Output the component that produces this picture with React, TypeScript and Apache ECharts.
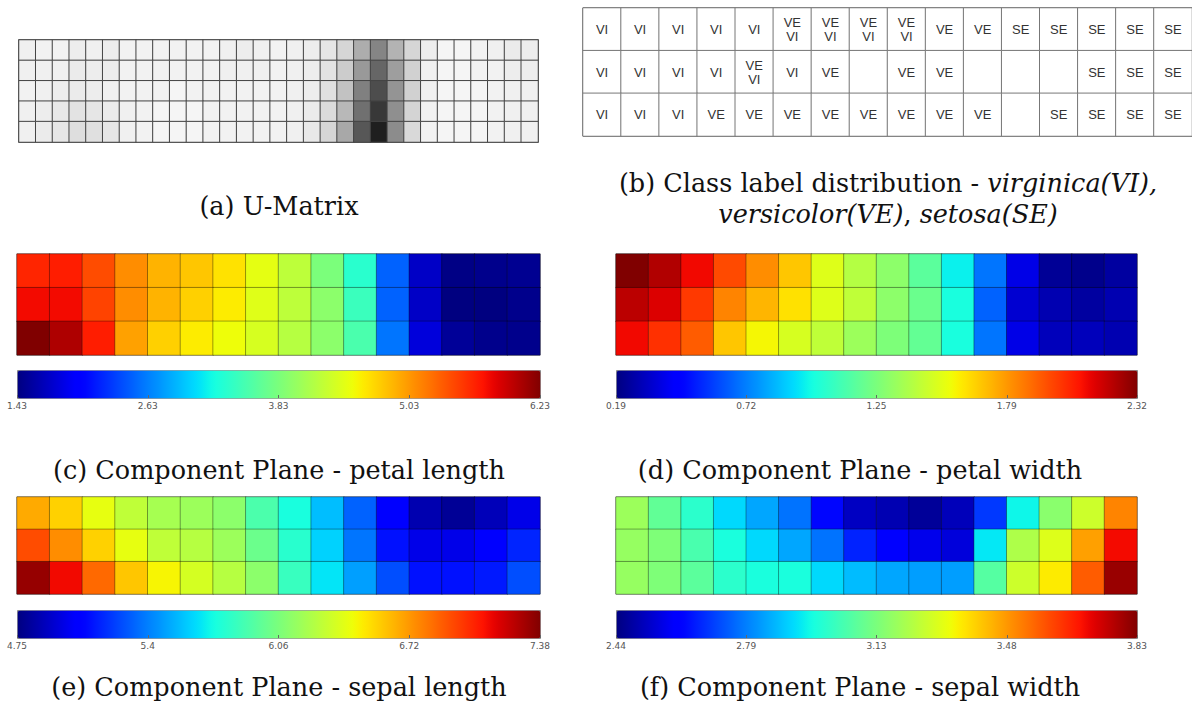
import React, { useEffect, useRef } from "react";
import * as echarts from "echarts";

// ---------- DATA ----------
const somCols = ["0","1","2","3","4","5","6","7","8","9","10","11","12","13","14","15"];
const somRows = ["r0","r1","r2"];
const umCols = Array.from({ length: 31 }, (_, i) => String(i));
const umRows = ["u0","u1","u2","u3","u4"];

// U-Matrix darkness (0 = white, 1 = black), rows top to bottom
const uRow0 = [0.06,0.05,0.05,0.07,0.06,0.07,0.05,0.05,0.05,0.05,0.05,0.05,0.06,0.07,0.06,0.05,0.06,0.07,0.10,0.16,0.32,0.48,0.30,0.16,0.07,0.04,0.04,0.05,0.06,0.08,0.07];
const uRow1 = [0.06,0.06,0.06,0.08,0.07,0.07,0.05,0.05,0.05,0.05,0.05,0.05,0.06,0.06,0.06,0.05,0.06,0.07,0.11,0.20,0.40,0.60,0.38,0.18,0.06,0.04,0.04,0.05,0.05,0.07,0.07];
const uRow2 = [0.05,0.06,0.07,0.08,0.07,0.06,0.05,0.05,0.05,0.04,0.05,0.05,0.05,0.05,0.05,0.05,0.06,0.07,0.12,0.24,0.50,0.70,0.42,0.18,0.06,0.04,0.04,0.04,0.05,0.06,0.06];
const uRow3 = [0.06,0.07,0.09,0.11,0.10,0.08,0.06,0.05,0.04,0.04,0.04,0.05,0.05,0.05,0.05,0.05,0.06,0.08,0.14,0.28,0.56,0.78,0.44,0.17,0.05,0.04,0.04,0.04,0.05,0.06,0.06];
const uRow4 = [0.06,0.08,0.10,0.13,0.12,0.10,0.06,0.05,0.04,0.04,0.04,0.05,0.05,0.05,0.05,0.05,0.06,0.09,0.16,0.34,0.66,0.88,0.45,0.15,0.05,0.04,0.04,0.04,0.05,0.06,0.06];

// Class labels
const classRow0 = ["VI","VI","VI","VI","VI","VE\nVI","VE\nVI","VE\nVI","VE\nVI","VE","VE","SE","SE","SE","SE","SE"];
const classRow1 = ["VI","VI","VI","VI","VE\nVI","VI","VE","","VE","VE","","","","SE","SE","SE"];
const classRow2 = ["VI","VI","VI","VE","VE","VE","VE","VE","VE","VE","VE","","SE","SE","SE","SE"];

// (c) petal length
const plTop = [5.61,5.65,5.41,5.08,4.89,4.79,4.65,4.45,4.21,3.83,3.35,2.49,1.72,1.45,1.48,1.50];
const plMid = [5.75,5.75,5.46,5.08,4.89,4.74,4.60,4.41,4.21,3.93,3.45,2.49,1.72,1.43,1.43,1.48];
const plBot = [6.23,6.04,5.65,4.98,4.74,4.60,4.50,4.36,4.17,3.93,3.54,2.58,1.81,1.53,1.48,1.48];
const plTicks = ["1.43","2.63","3.83","5.03","6.23"];

// (d) petal width
const pwTop = [2.32,2.23,2.11,1.96,1.81,1.68,1.51,1.40,1.30,1.17,0.96,0.70,0.38,0.23,0.21,0.25];
const pwMid = [2.21,2.15,2.00,1.83,1.72,1.62,1.51,1.43,1.30,1.21,1.00,0.66,0.34,0.28,0.25,0.28];
const pwBot = [2.11,2.02,1.92,1.68,1.57,1.49,1.43,1.34,1.26,1.19,1.00,0.70,0.38,0.30,0.30,0.28];
const pwTicks = ["0.19","0.72","1.25","1.79","2.32"];

// (e) sepal length
const slTop = [6.67,6.56,6.41,6.28,6.20,6.17,6.12,5.91,5.75,5.57,5.33,5.07,4.86,4.80,4.88,4.99];
const slMid = [6.93,6.75,6.56,6.41,6.28,6.25,6.17,6.01,5.80,5.62,5.38,5.12,4.99,4.99,5.07,5.17];
const slBot = [7.33,7.12,6.85,6.59,6.46,6.35,6.25,6.12,5.85,5.67,5.49,5.28,5.12,5.12,5.14,5.28];
const slTicks = ["4.75","5.4","6.06","6.72","7.38"];

// (f) sepal width
const swTop = [3.19,3.09,3.00,2.91,2.84,2.77,2.62,2.52,2.50,2.47,2.51,2.69,2.95,3.16,3.27,3.51];
const swMid = [3.18,3.14,3.05,2.97,2.91,2.84,2.77,2.66,2.61,2.57,2.55,2.93,3.22,3.30,3.47,3.69];
const swBot = [3.18,3.14,3.08,3.00,2.97,2.97,2.91,2.87,2.84,2.83,2.83,3.07,3.27,3.36,3.57,3.80];
const swTicks = ["2.44","2.79","3.13","3.48","3.83"];

// ---------- HELPERS ----------
function interp(t: number, pts: number[][]) {
  for (let i = 1; i < pts.length; i++) {
    if (t <= pts[i][0]) {
      const [x0, y0] = pts[i - 1];
      const [x1, y1] = pts[i];
      return y0 + ((t - x0) / (x1 - x0)) * (y1 - y0);
    }
  }
  return pts[pts.length - 1][1];
}
function jet(t: number) {
  const r = interp(t, [[0,0],[0.35,0],[0.66,1],[0.89,1],[1,0.5]]);
  const g = interp(t, [[0,0],[0.125,0],[0.375,1],[0.64,1],[0.91,0],[1,0]]);
  const b = interp(t, [[0,0.5],[0.11,1],[0.34,1],[0.65,0],[1,0]]);
  const h = (v: number) => Math.round(Math.max(0, Math.min(1, v)) * 255).toString(16).padStart(2, "0");
  return "#" + h(r) + h(g) + h(b);
}
const jetColors = Array.from({ length: 65 }, (_, i) => jet(i / 64));

function toCells(rows: any[][]) {
  const out: any[] = [];
  rows.forEach((row, y) => row.forEach((v, x) => out.push([x, y, v])));
  return out;
}

const SERIF = "DejaVu Serif";

export default function App() {
  const ref = useRef<HTMLDivElement>(null);
  useEffect(() => {
    document.body.style.margin = "0";
    const chart = echarts.init(ref.current!, null, { renderer: "svg" });

    const P = {
      um: { left: 19, top: 40, width: 519, height: 102 },
      tb: { left: 583, top: 8, width: 610, height: 128 },
      c: { left: 17, top: 254, width: 523, height: 101, cb: 370 },
      d: { left: 616, top: 254, width: 521, height: 101, cb: 370 },
      e: { left: 17, top: 497, width: 523, height: 97, cb: 610 },
      f: { left: 616, top: 497, width: 521, height: 97, cb: 610 },
    };
    const CB_H = 28;

    const grids: any[] = [];
    const xAxes: any[] = [];
    const yAxes: any[] = [];
    const series: any[] = [];
    const visualMaps: any[] = [];

    const addHeatGrid = (g: any, cols: string[], rows: string[], border: string, bw = 1) => {
      grids.push({ left: g.left, top: g.top, width: g.width, height: g.height, show: true, borderColor: border, borderWidth: bw, backgroundColor: "transparent" });
      const gi = grids.length - 1;
      xAxes.push({ gridIndex: gi, type: "category", data: cols, show: false });
      yAxes.push({ gridIndex: gi, type: "category", data: rows, inverse: true, show: false });
      return gi;
    };

    // (a) U-Matrix
    const gUm = addHeatGrid(P.um, umCols, umRows, "#444", 1.5);
    series.push({
      type: "heatmap", xAxisIndex: gUm, yAxisIndex: gUm,
      data: toCells([uRow0, uRow1, uRow2, uRow3, uRow4]),
      itemStyle: { borderColor: "#444", borderWidth: 1 },
      emphasis: { disabled: true },
      z: 1,
    });
    visualMaps.push({ show: false, type: "continuous", seriesIndex: series.length - 1, min: 0, max: 1, inRange: { color: ["#ffffff", "#000000"] } });

    // (b) Class label table
    const gTb = addHeatGrid(P.tb, somCols, somRows, "#222");
    const classCells = toCells([classRow0, classRow1, classRow2]).map((c) => ({ value: [c[0], c[1], 0], label: { formatter: c[2] } }));
    series.push({
      type: "heatmap", xAxisIndex: gTb, yAxisIndex: gTb,
      data: classCells,
      itemStyle: { borderColor: "#777", borderWidth: 1 },
      label: { show: true, color: "#333", fontSize: 13, lineHeight: 14, fontFamily: "Liberation Sans" },
      emphasis: { disabled: true },
    });
    visualMaps.push({ show: false, type: "continuous", seriesIndex: series.length - 1, min: 0, max: 1, inRange: { color: ["#ffffff", "#ffffff"] } });

    const planes = [
      { g: P.c, rows: [plTop, plMid, plBot], ticks: plTicks },
      { g: P.d, rows: [pwTop, pwMid, pwBot], ticks: pwTicks },
      { g: P.e, rows: [slTop, slMid, slBot], ticks: slTicks },
      { g: P.f, rows: [swTop, swMid, swBot], ticks: swTicks },
    ];
    planes.forEach((pl) => {
      const gi = addHeatGrid(pl.g, somCols, somRows, "#888");
      series.push({
        type: "heatmap", xAxisIndex: gi, yAxisIndex: gi,
        data: toCells(pl.rows),
        itemStyle: { borderColor: "rgba(0,0,0,0.35)", borderWidth: 1 },
        emphasis: { disabled: true },
      });
      const min = parseFloat(pl.ticks[0]);
      const max = parseFloat(pl.ticks[pl.ticks.length - 1]);
      visualMaps.push({
        type: "continuous", seriesIndex: series.length - 1, min, max,
        orient: "horizontal", left: pl.g.left, top: pl.g.cb,
        itemWidth: CB_H, itemHeight: pl.g.width, calculable: false, padding: 0,
        borderColor: "#888", borderWidth: 1, text: ["", ""], hoverLink: false,
        inRange: { color: jetColors },
      });
      grids.push({ left: pl.g.left, top: pl.g.cb, width: pl.g.width, height: CB_H, show: false });
      const ci = grids.length - 1;
      xAxes.push({
        gridIndex: ci, type: "category", data: pl.ticks, boundaryGap: false,
        axisLine: { show: false },
        axisTick: { show: true, inside: true, length: 3, lineStyle: { color: "#666" } },
        axisLabel: { fontSize: 9, color: "#555", margin: 3, fontFamily: "DejaVu Sans", interval: 0 },
        z: 10,
      });
      yAxes.push({ gridIndex: ci, type: "value", show: false });
      series.push({ type: "line", xAxisIndex: ci, yAxisIndex: ci, data: [], silent: true });
    });

    const capStyle = (text: string, x: number, y: number) => ({
      type: "text", x, y,
      style: { text, font: `25.5px "${SERIF}"`, fill: "#111", textAlign: "center", textVerticalAlign: "middle" },
    });
    const richCap = (text: string, x: number, y: number) => ({
      type: "text", x, y,
      style: {
        text, textAlign: "center", textVerticalAlign: "middle",
        rich: {
          n: { fontFamily: SERIF, fontSize: 25.5, fill: "#111" },
          i: { fontFamily: SERIF, fontSize: 25.5, fontStyle: "italic", fill: "#111" },
        },
      },
    });

    chart.setOption({
      animation: false,
      backgroundColor: "#ffffff",
      grid: grids,
      xAxis: xAxes,
      yAxis: yAxes,
      visualMap: visualMaps,
      series,
      graphic: [
        capStyle("(a) U-Matrix", 279, 206),
        richCap("{n|(b) Class label distribution - }{i|virginica(VI),}", 888, 183),
        richCap("{i|versicolor(VE)}{n|, }{i|setosa(SE)}", 888, 214),
        capStyle("(c) Component Plane - petal length", 279, 470),
        capStyle("(d) Component Plane - petal width", 860, 470),
        capStyle("(e) Component Plane - sepal length", 279, 687),
        capStyle("(f) Component Plane - sepal width", 860, 687),
      ],
    });
    return () => chart.dispose();
  }, []);
  return <div ref={ref} style={{ position: "absolute", left: 0, top: 0, width: 1192, height: 708 }} />;
}
